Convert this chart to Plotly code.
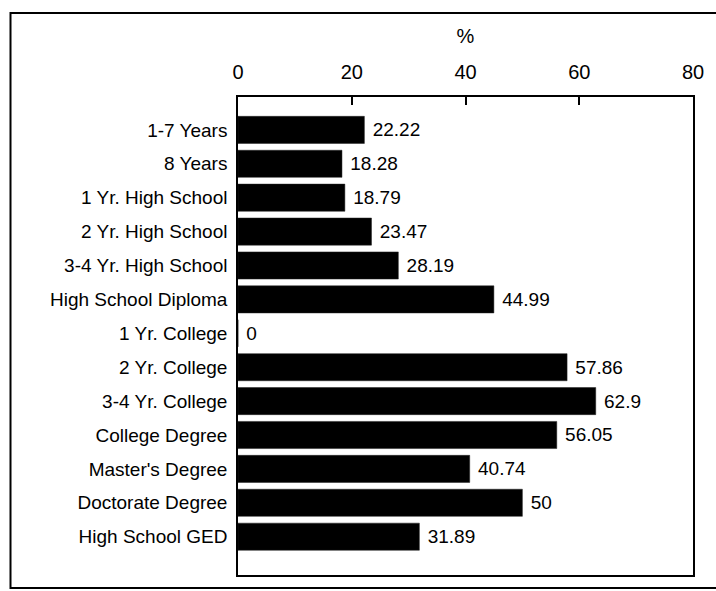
import plotly.graph_objects as go

# Education level categories and their percentages
categories = [
    "1-7 Years", "8 Years", "1 Yr. High School", "2 Yr. High School",
    "3-4 Yr. High School", "High School Diploma", "1 Yr. College",
    "2 Yr. College", "3-4 Yr. College", "College Degree",
    "Master's Degree", "Doctorate Degree", "High School GED",
]
values = [22.22, 18.28, 18.79, 23.47, 28.19, 44.99, 0, 57.86, 62.9, 56.05, 40.74, 50, 31.89]
value_labels = ["22.22", "18.28", "18.79", "23.47", "28.19", "44.99", "0",
                "57.86", "62.9", "56.05", "40.74", "50", "31.89"]
x_ticks = [0, 20, 40, 60, 80]

FONT = "Liberation Sans, Arial, sans-serif"

fig = go.Figure(
    go.Bar(
        x=values,
        y=categories,
        orientation="h",
        width=0.8,
        marker=dict(color="#000000", line=dict(color="#222222", width=0.5)),
        text=value_labels,
        texttemplate=" %{text}",
        textposition="outside",
        textfont=dict(family=FONT, size=19, color="#000000"),
        cliponaxis=False,
    )
)

W, H = 716, 591
L, R, T, B = 238, 20, 97, 16
pw, ph = W - L - R, H - T - B

def px_x(x):
    return (x - L) / pw

def px_y(y):
    return (H - B - y) / ph

# Outer frame around the whole chart
fig.add_shape(
    type="rect", xref="paper", yref="paper",
    x0=px_x(9), x1=px_x(730), y0=px_y(588), y1=px_y(13),
    line=dict(color="#000000", width=2), fillcolor="rgba(0,0,0,0)",
)

fig.update_layout(
    width=W, height=H,
    margin=dict(l=L, r=R, t=T, b=B),
    paper_bgcolor="white", plot_bgcolor="white",
    showlegend=False,
    font=dict(family=FONT, size=19, color="#000000"),
    xaxis=dict(
        side="top",
        range=[0, 80],
        tickvals=x_ticks,
        ticktext=[str(t) for t in x_ticks],
        ticks="inside", ticklen=8, tickwidth=1.5, tickcolor="#000000",
        showline=True, linecolor="#000000", linewidth=1.5, mirror=True,
        showgrid=False, zeroline=False,
        tickfont=dict(family=FONT, size=20, color="#000000"),
        ticklabelstandoff=8,
        title=dict(text="%", font=dict(family=FONT, size=20, color="#000000"), standoff=12),
    ),
    yaxis=dict(
        type="category",
        categoryorder="array", categoryarray=categories,
        range=[13.13, -0.97],
        ticks="", showline=True, linecolor="#000000", linewidth=1.5, mirror=True,
        showgrid=False, zeroline=False,
        tickfont=dict(family=FONT, size=19, color="#000000"),
        ticklabelstandoff=5,
    ),
)

fig.write_html("out.html")
